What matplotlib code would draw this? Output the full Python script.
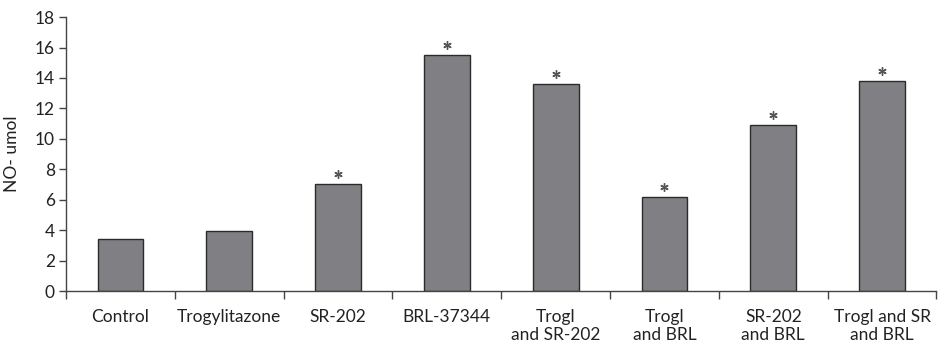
import matplotlib.pyplot as plt
import numpy as np

categories = ["Control", "Trogylitazone", "SR-202", "BRL-37344",
              "Trogl\nand SR-202", "Trogl\nand BRL", "SR-202\nand BRL", "Trogl and SR\nand BRL"]
values = [3.4, 3.95, 7.03, 15.5, 13.58, 6.16, 10.93, 13.78]
significant = [False, False, True, True, True, True, True, True]
yticks = [0, 2, 4, 6, 8, 10, 12, 14, 16, 18]

plt.rcParams['font.family'] = ['Lato', 'DejaVu Sans']

fig = plt.figure(figsize=(9.38, 3.42), dpi=100)
ax = fig.add_axes([0.0704, 0.149, 0.928, 0.801])

x = np.arange(len(categories))
ax.bar(x, values, width=0.42, color="#808084", edgecolor="#2b2b2b", linewidth=1.0, zorder=2)

# significance asterisks above bars
sx = [x[i] for i in range(len(values)) if significant[i]]
sy = [values[i] + 0.66 for i in range(len(values)) if significant[i]]
ax.plot(sx, sy, linestyle="none", marker=(6, 2, 0), markersize=6,
        markeredgewidth=1.0, color="#555555", clip_on=False)

ax.set_xlim(-0.5, len(categories) - 0.5)
ax.set_ylim(0, 18)
ax.set_yticks(yticks)
ax.set_xticks(x)
ax.set_xticklabels(categories, fontsize=12.5, linespacing=1.15, color="#222222")
ax.tick_params(axis="x", which="major", length=0, pad=13)
ax.set_xticks(np.arange(len(categories) + 1) - 0.5, minor=True)
ax.tick_params(axis="x", which="minor", length=6, width=1, color="#444444", direction="out")
ax.tick_params(axis="y", length=5, width=1, color="#444444", labelsize=12.5, labelcolor="#222222", pad=3)

for s in ["top", "right"]:
    ax.spines[s].set_visible(False)
for s in ["left", "bottom"]:
    ax.spines[s].set_color("#444444")
    ax.spines[s].set_linewidth(1)

ax.set_ylabel("NO- umol", fontsize=12.5, color="#222222", labelpad=11)

fig.savefig("out.png", dpi=100)
